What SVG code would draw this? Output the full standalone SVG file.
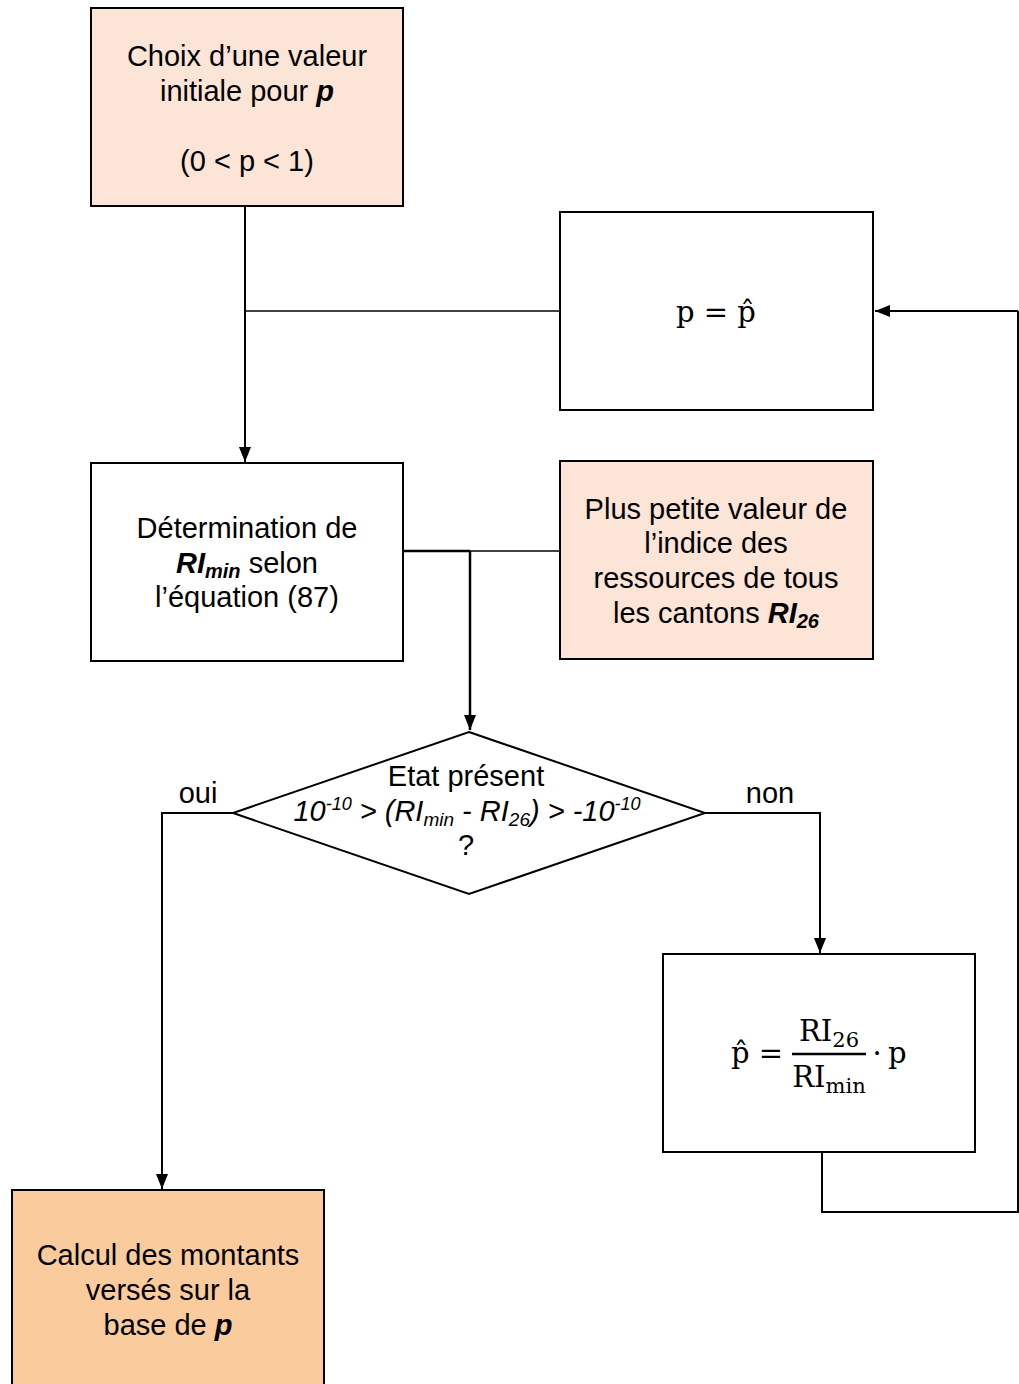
<svg xmlns="http://www.w3.org/2000/svg" width="1019" height="1384" viewBox="0 0 1019 1384">
<style>
.box{stroke:#000;stroke-width:2;}
.t{font-family:"Liberation Sans",Arial,sans-serif;font-size:29px;fill:#000;text-anchor:middle;}
.bi{font-weight:bold;font-style:italic;}
.m{font-family:"DejaVu Serif","Liberation Serif",serif;font-size:29px;fill:#000;}
.c{fill:none;stroke:#000;stroke-width:2;}
</style>
<defs>
<marker id="ah" markerUnits="userSpaceOnUse" markerWidth="15" markerHeight="15" viewBox="0 0 15 12" refX="15" refY="6" orient="auto">
<path d="M0,0 L15,6 L0,12 Z" fill="#000"/>
</marker>
</defs>
<rect width="1019" height="1384" fill="#fff"/>

<g id="connectors">
<path class="c" d="M245,206 V462" marker-end="url(#ah)"/>
<path class="c" d="M245,311 H562" style="stroke-width:1.5"/>
<path class="c" d="M1018,311 H875" marker-end="url(#ah)"/>
<path class="c" d="M822,1152 V1212 H1018 V311"/>
<path class="c" d="M403,551 H470" style="stroke-width:2.5"/>
<path class="c" d="M470,551 H560" style="stroke-width:1.5"/>
<path class="c" d="M470,551 V730" style="stroke-width:2.5" marker-end="url(#ah)"/>
<path class="c" d="M233,813 H162 V1189" marker-end="url(#ah)"/>
<path class="c" d="M705,813 H820 V953" marker-end="url(#ah)"/>
</g>

<g id="n-init">
<rect class="box" x="91" y="8" width="312" height="198" fill="#FCE4D6"/>
<text class="t" x="247" y="66">Choix d’une valeur</text>
<text class="t" x="247" y="101">initiale pour <tspan class="bi">p</tspan></text>
<text class="t" x="247" y="171">(0 &lt; p &lt; 1)</text>
</g>

<g id="n-update">
<rect class="box" x="560" y="212" width="313" height="198" fill="#fff"/>
<text class="m" x="716" y="322" text-anchor="middle">p = p̂</text>
</g>

<g id="n-rimin">
<rect class="box" x="91" y="463" width="312" height="198" fill="#fff"/>
<text class="t" x="247" y="538">Détermination de</text>
<text class="t" x="247" y="573"><tspan class="bi">RI</tspan><tspan class="bi" font-size="20" dy="5">min</tspan><tspan dy="-5"> selon</tspan></text>
<text class="t" x="247" y="607">l’équation (87)</text>
</g>

<g id="n-ri26">
<rect class="box" x="560" y="461" width="313" height="198" fill="#FCE4D6"/>
<text class="t" x="716" y="519">Plus petite valeur de</text>
<text class="t" x="716" y="553">l’indice des</text>
<text class="t" x="716" y="588">ressources de tous</text>
<text class="t" x="716" y="623">les cantons <tspan class="bi">RI</tspan><tspan class="bi" font-size="20" dy="5">26</tspan></text>
</g>

<g id="n-decision">
<polygon class="box" points="469,732 705,813 469,894 233,813" fill="#fff"/>
<text class="t" x="466" y="786">Etat présent</text>
<text class="t" x="467" y="821" font-style="italic" font-size="28">10<tspan font-size="18" dy="-11">-10</tspan><tspan dy="11"> &gt; (RI</tspan><tspan font-size="19" dy="5">min</tspan><tspan dy="-5"> - RI</tspan><tspan font-size="19" dy="5">26</tspan><tspan dy="-5">) &gt; -10</tspan><tspan font-size="18" dy="-11">-10</tspan></text>
<text class="t" x="466" y="855">?</text>
<text class="t" x="198" y="803">oui</text>
<text class="t" x="770" y="803">non</text>
</g>

<g id="n-formula">
<rect class="box" x="663" y="954" width="312" height="198" fill="#fff"/>
<text class="m" x="757" y="1063" text-anchor="middle" font-size="30">p̂ =</text>
<text class="m" x="829" y="1041" text-anchor="middle" font-size="30">RI<tspan font-size="21" dy="6">26</tspan></text>
<line x1="792" y1="1054" x2="866" y2="1054" stroke="#000" stroke-width="2.5"/>
<text class="m" x="829" y="1087" text-anchor="middle" font-size="30">RI<tspan font-size="21" dy="6">min</tspan></text>
<text class="m" x="877" y="1063" text-anchor="middle" font-size="30">·</text>
<text class="m" x="888" y="1063" font-size="30">p</text>
</g>

<g id="n-calcul">
<rect class="box" x="12" y="1190" width="312" height="200" fill="#FACB9C"/>
<text class="t" x="168" y="1265">Calcul des montants</text>
<text class="t" x="168" y="1300">versés sur la</text>
<text class="t" x="168" y="1335">base de <tspan class="bi">p</tspan></text>
</g>
</svg>
